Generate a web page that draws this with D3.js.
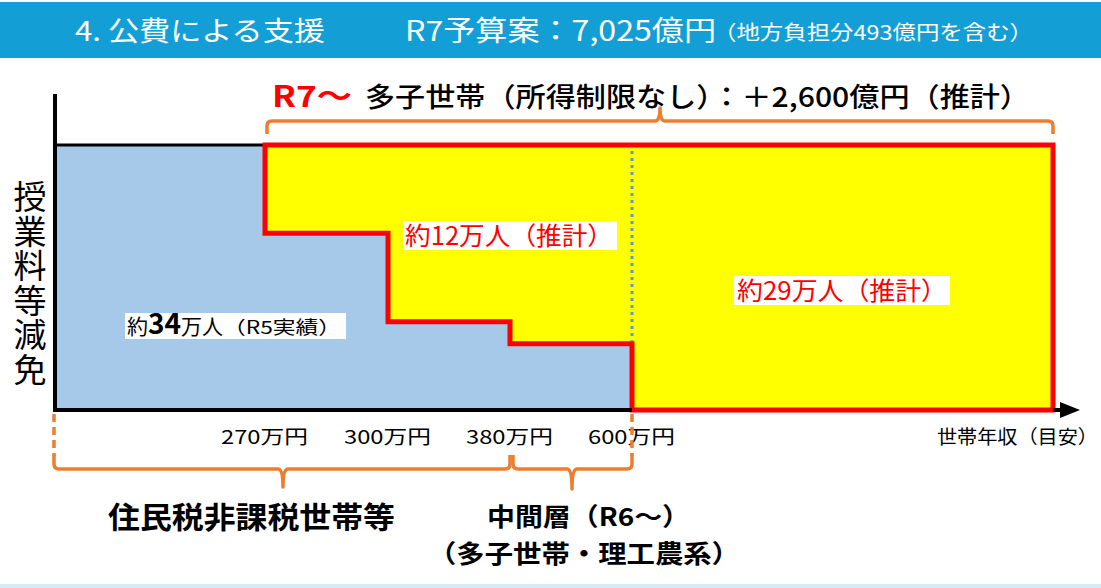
<!DOCTYPE html>
<html>
<head>
<meta charset="utf-8">
<script src="https://cdn.jsdelivr.net/npm/d3@7"></script>
<style>
  body { margin: 0; background: #fff; }
  svg { display: block; font-family: "Noto Sans CJK JP", "Noto Sans", sans-serif; }
</style>
</head>
<body>
<div id="chart"></div>
<script>
// income thresholds (万円) and support level before/after R7
var thresholds = [0, 270, 300, 380, 600, 1000]
var tickValues = [270, 300, 380, 600]
var tickLabels = ["270万円", "300万円", "380万円", "600万円"]
var currentLevel = [1, 2 / 3, 1 / 3, 1 / 4, 0, 0]   // 既存の減免(住民税非課税・中間層)
var r7Level = [1, 1, 1, 1, 1, 1]                     // R7～ 多子世帯は所得制限なし

var W = 1101, H = 588
var svg = d3.select("#chart").append("svg").attr("width", W).attr("height", H)

var x = d3.scaleLinear().domain(thresholds).range([57, 265, 388, 510, 632, 1053])
var y = d3.scaleLinear().domain([0, 1]).range([410, 145])

// text helper: fixes the width so it lines up with the reference
function label(str, px, py, size, width, opts) {
  opts = opts || {}
  var t = svg.append("text").attr("x", px).attr("y", py)
    .attr("font-size", size)
    .attr("font-weight", opts.weight || 400)
    .attr("fill", opts.fill || "#000")
    .attr("text-anchor", opts.anchor || "start")
    .text(str)
  if (width) t.attr("textLength", width).attr("lengthAdjust", "spacingAndGlyphs")
  return t
}

// header band
svg.append("rect").attr("x", 0).attr("y", 2).attr("width", W).attr("height", 56).attr("fill", "#139fd6")
svg.append("rect").attr("x", 0).attr("y", 584).attr("width", W).attr("height", 4).attr("fill", "#d2edf8")
label("4. 公費による支援", 75, 41, 27, 250, {fill: "#fff"})
label("R7予算案：7,025億円", 405, 41, 28, 311, {fill: "#fff"})
label("（地方負担分493億円を含む）", 713, 40, 20, 320, {fill: "#fff"})

// blue: current support (step)
var blueData = thresholds.slice(0, 5).map(function(t, i) { return {t: t, lv: currentLevel[i]} })
svg.append("path")
  .datum(blueData)
  .attr("fill", "#a6c8e9")
  .attr("d", d3.area().curve(d3.curveStepAfter)
    .x(function(d) { return x(d.t) })
    .y0(y(0))
    .y1(function(d) { return y(d.lv) }))

// black top edge of blue block
svg.append("line").attr("x1", x(0) - 2).attr("x2", x(270)).attr("y1", y(1)).attr("y2", y(1))
  .attr("stroke", "#000").attr("stroke-width", 3)

// yellow: R7 expansion (difference between new and current)
var yellowData = thresholds.slice(1).map(function(t, i) { return {t: t, lv: currentLevel[i + 1], top: r7Level[i + 1]} })
svg.append("path")
  .datum(yellowData)
  .attr("fill", "#ffff00")
  .attr("stroke", "#ff0000")
  .attr("stroke-width", 5)
  .attr("stroke-linejoin", "miter")
  .attr("d", d3.area().curve(d3.curveStepAfter)
    .x(function(d) { return x(d.t) })
    .y0(function(d) { return y(d.lv) })
    .y1(function(d) { return y(d.top) }))

// dotted blue line at 600万円
svg.append("line").attr("x1", x(600)).attr("x2", x(600)).attr("y1", y(1) + 6).attr("y2", y(1 / 4) - 3)
  .attr("stroke", "#5b9bd5").attr("stroke-width", 3).attr("stroke-dasharray", "3,4")

// axes
svg.append("line").attr("x1", x(0) - 2).attr("x2", x(0) - 2).attr("y1", 94).attr("y2", y(0) + 2)
  .attr("stroke", "#000").attr("stroke-width", 4)
svg.append("line").attr("x1", x(0) - 4).attr("x2", x(600)).attr("y1", y(0)).attr("y2", y(0))
  .attr("stroke", "#000").attr("stroke-width", 4)
svg.append("line").attr("x1", x(1000)).attr("x2", 1064).attr("y1", y(0)).attr("y2", y(0))
  .attr("stroke", "#000").attr("stroke-width", 4)
svg.append("path").attr("d", "M1060,402 L1080,410 L1060,418 Z").attr("fill", "#000")

// tick labels
svg.selectAll(".tick").data(tickValues).enter().append("text")
  .attr("class", "tick")
  .attr("x", function(d) { return x(d) - 44 })
  .attr("y", 444)
  .attr("font-size", 19).attr("fill", "#000")
  .attr("textLength", 87).attr("lengthAdjust", "spacingAndGlyphs")
  .text(function(d, i) { return tickLabels[i] })
label("世帯年収（目安）", 937, 444, 19, 161)

// y label (vertical)
svg.append("text").attr("x", 30).attr("y", 180)
  .attr("font-size", 33).style("writing-mode", "vertical-rl")
  .style("letter-spacing", "1.5px")
  .text("授業料等減免")

// braces
var orange = "#ed7d31"
function brace(x0, x1, xm, yLine, yEnd, yTip) {
  var s = yEnd < yLine ? -1 : 1
  var r = 5
  return "M" + x0 + "," + yEnd +
    " L" + x0 + "," + (yLine + s * r) +
    " Q" + x0 + "," + yLine + " " + (x0 + r) + "," + yLine +
    " L" + (xm - r) + "," + yLine +
    " Q" + xm + "," + yLine + " " + xm + "," + yTip +
    " Q" + xm + "," + yLine + " " + (xm + r) + "," + yLine +
    " L" + (x1 - r) + "," + yLine +
    " Q" + x1 + "," + yLine + " " + x1 + "," + (yLine + s * r) +
    " L" + x1 + "," + yEnd
}
function drawBrace(d) {
  svg.append("path").attr("d", d).attr("fill", "none").attr("stroke", orange)
    .attr("stroke-width", 3.5).attr("stroke-linejoin", "round")
}
drawBrace(brace(x(270) + 2, x(1000), 660, 121, 134, 108))
drawBrace(brace(x(0) - 3, x(380), 283, 469, 455, 487))
drawBrace(brace(x(380) + 3, x(600), 572, 469, 455, 489))
// dotted guides down from axis
;[x(0) - 3, x(600)].forEach(function(px) {
  svg.append("line").attr("x1", px).attr("x2", px).attr("y1", 414).attr("y2", 456)
    .attr("stroke", orange).attr("stroke-width", 3.5).attr("stroke-dasharray", "8,5")
})

// labels inside areas
function box(x0, y0, w, h) {
  svg.append("rect").attr("x", x0).attr("y", y0).attr("width", w).attr("height", h).attr("fill", "#fff")
}
box(125, 313, 221, 26)
var t34 = svg.append("text").attr("x", 127).attr("y", 334).attr("fill", "#000")
t34.append("tspan").attr("font-size", 21).text("約")
t34.append("tspan").attr("font-size", 28).attr("font-weight", 700).text("34")
t34.append("tspan").attr("font-size", 21).text("万人")
t34.append("tspan").attr("font-size", 18).attr("textLength", 118).attr("lengthAdjust", "spacingAndGlyphs").text("（R5実績）")

box(403, 221, 214, 29)
label("約12万人（推計）", 405, 245, 25, 208, {fill: "#ff0000"})
box(734, 276, 216, 29)
label("約29万人（推計）", 737, 300, 25, 210, {fill: "#ff0000"})

// top title
label("R7～", 272, 107, 29, 80, {fill: "#ff0000", weight: 700})
label("多子世帯（所得制限なし）：＋2,600億円（推計）", 365, 107, 27, 665, {weight: 500})

// bottom labels
label("住民税非課税世帯等", 108, 528, 30, 287, {weight: 700})
label("中間層（R6～）", 487, 526, 25, 203, {weight: 700})
label("（多子世帯・理工農系）", 428, 563, 25, 312, {weight: 700})
</script>
</body>
</html>
